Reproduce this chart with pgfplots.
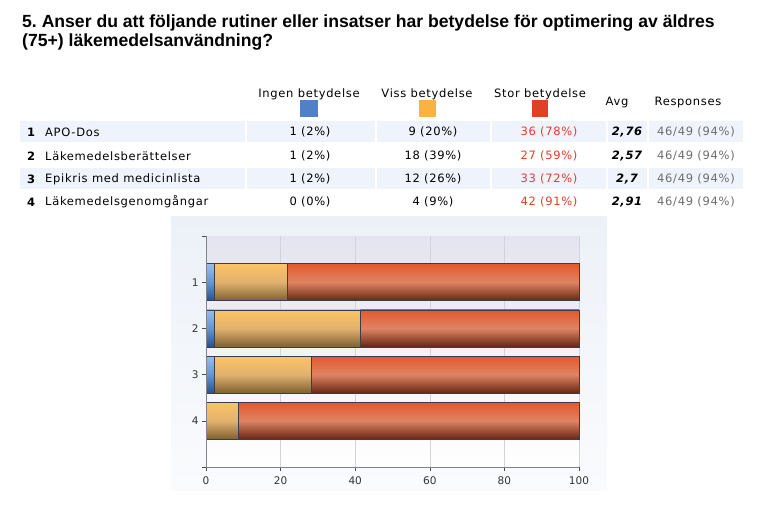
\documentclass[border=0pt]{standalone}
\usepackage{pgfplots}
\pgfplotsset{compat=1.18}
\usepackage{fontspec}
\setmainfont{DejaVu Sans}
\newfontfamily\titlefont{Liberation Sans}[BoldFont={Liberation Sans Bold}]
\newfontfamily\tabfont{DejaVu Sans}[LetterSpace=6]
\frenchspacing
\definecolor{rowblue}{RGB}{239,244,252}
\definecolor{cblue}{RGB}{79,129,196}
\definecolor{corange}{RGB}{250,178,64}
\definecolor{cred}{RGB}{224,64,38}
\definecolor{tred}{RGB}{232,58,40}
\definecolor{tgrey}{RGB}{110,110,110}
\definecolor{barline}{RGB}{60,60,75}
\definecolor{gridc}{RGB}{210,210,220}
\definecolor{axisc}{RGB}{130,130,140}
\pgfplotsset{
  base/.style={
    at={(206bp,-467bp)}, anchor=south west,
    scale only axis, width=373bp, height=231bp,
    xmin=0, xmax=100, ymin=0, ymax=5,
    xbar stacked, bar width=37bp, clip=false,
  },
  bluebar/.style={draw=barline, line width=0.6bp, top color={rgb,255:red,150;green,190;blue,235}, bottom color={rgb,255:red,40;green,80;blue,140}, middle color={rgb,255:red,100;green,150;blue,210}},
  orangebar/.style={draw=barline, line width=0.6bp, top color={rgb,255:red,253;green,195;blue,100}, bottom color={rgb,255:red,125;green,95;blue,50}, middle color={rgb,255:red,225;green,178;blue,110}},
  redbar/.style={draw=barline, line width=0.6bp, top color={rgb,255:red,228;green,88;blue,45}, bottom color={rgb,255:red,100;green,38;blue,18}, middle color={rgb,255:red,222;green,132;blue,100}},
}
\begin{document}
\begin{tikzpicture}[x=1bp,y=-1bp]
\path[use as bounding box] (0,0) rectangle (779,532);
\fill[white] (0,0) rectangle (779,532);
% title
\node[anchor=north west, font=\titlefont\bfseries\fontsize{17.6bp}{19bp}\selectfont, align=left, inner sep=0] at (22,15) {5. Anser du att följande rutiner eller insatser har betydelse för optimering av äldres\\(75+) läkemedelsanvändning?};
% header
\tikzset{tf/.style={font=\tabfont\fontsize{11.5bp}{13bp}\selectfont, inner sep=0}}
\node[tf] at (309,94) {Ingen betydelse};
\node[tf] at (427,94) {Viss betydelse};
\node[tf] at (540,94) {Stor betydelse};
\node[tf] at (617,103) {Avg};
\node[tf] at (688,103) {Responses};
\fill[cblue] (300,100) rectangle (318,117);
\fill[corange] (419,100) rectangle (436,117);
\fill[cred] (532,100) rectangle (548,117);
% row backgrounds
\foreach \y in {121,168}{
  \foreach \a/\b in {20/245,247/375,377/490,492/606,608/647,649/743}{
    \fill[rowblue] (\a,\y) rectangle (\b,\y+21.5);
  }
}
% rows
\foreach \y/\n/\lab/\i/\v/\s/\avg in {132/1/APO-Dos/1 (2\%)/9 (20\%)/36 (78\%)/{2,76},
  156/2/Läkemedelsberättelser/1 (2\%)/18 (39\%)/27 (59\%)/{2,57},
  179/3/Epikris med medicinlista/1 (2\%)/12 (26\%)/33 (72\%)/{2,7},
  202/4/Läkemedelsgenomgångar/0 (0\%)/4 (9\%)/42 (91\%)/{2,91}}{
  \node[tf, anchor=west] at (27,\y) {\bfseries\n};
  \node[tf, anchor=west] at (45,\y) {\lab};
  \node[tf] at (310,\y) {\i};
  \node[tf] at (433,\y) {\v};
  \node[tf, text=tred] at (549,\y) {\s};
  \node[tf] at (627,\y) {\bfseries\itshape\avg};
  \node[tf, text=tgrey] at (696,\y) {46/49 (94\%)};
}
% chart panel
\shade[top color={rgb,255:red,236;green,241;blue,248}, bottom color={rgb,255:red,250;green,251;blue,253}] (171,217) rectangle (607,490);
% row 1 with all axis decorations
\begin{axis}[base,
  xtick={0,20,40,60,80,100},
  ytick={0,1,2,3,4,5}, yticklabels={,4,3,2,1,},
  tick align=outside, major tick length=4bp,
  tick style={color=black!70, line width=0.6bp},
  axis x line*=bottom, axis y line*=left,
  axis line style={color=axisc, line width=0.8bp, -},
  xmajorgrids, grid style={color=gridc, line width=0.6bp},
  axis background/.style={shade, top color={rgb,255:red,228;green,228;blue,240}, bottom color=white},
  ticklabel style={font=\fontsize{10.5bp}{12bp}\selectfont, text=black!80},
  /pgf/number format/assume math mode=true,
  xticklabel style={yshift=-2bp},
]
\addplot[bluebar] coordinates {(2.17,4)};
\addplot[orangebar] coordinates {(19.57,4)};
\addplot[redbar] coordinates {(78.26,4)};
\end{axis}
% row 2
\begin{axis}[base, hide axis]
\addplot[bluebar] coordinates {(2.17,3)};
\addplot[orangebar] coordinates {(39.13,3)};
\addplot[redbar] coordinates {(58.70,3)};
\end{axis}
% row 3
\begin{axis}[base, hide axis]
\addplot[bluebar] coordinates {(2.17,2)};
\addplot[orangebar] coordinates {(26.09,2)};
\addplot[redbar] coordinates {(71.74,2)};
\end{axis}
% row 4
\begin{axis}[base, hide axis]
\addplot[orangebar] coordinates {(8.70,1)};
\addplot[redbar] coordinates {(91.30,1)};
\end{axis}
% redraw left axis line over bars
\begin{axis}[base, axis x line=none, axis y line*=left, ytick=\empty, axis line style={color=axisc, line width=0.8bp, -}]
\end{axis}
\end{tikzpicture}
\end{document}
